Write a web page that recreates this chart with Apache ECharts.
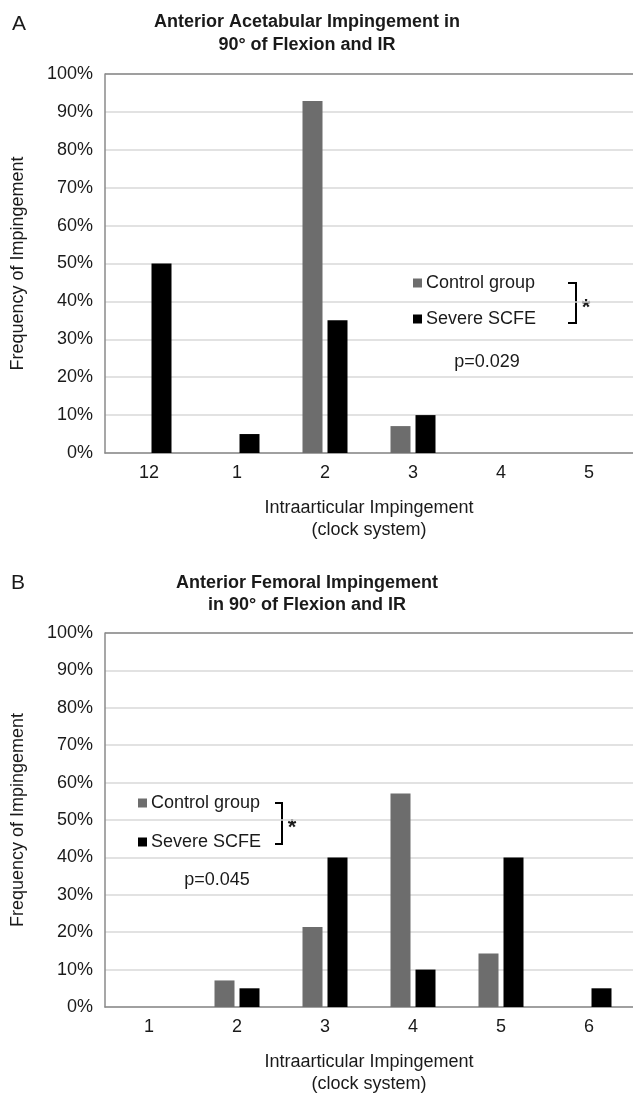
<!DOCTYPE html>
<html>
<head>
<meta charset="utf-8">
<script src="https://cdn.jsdelivr.net/npm/echarts@6/dist/echarts.min.js"></script>
<style>
html, body { margin: 0; padding: 0; background: #fff; }
#chart { width: 633px; height: 1096px; }
</style>
</head>
<body>
<div id="chart"></div>
<script>
// panel A: acetabular impingement
var clockA = ['12', '1', '2', '3', '4', '5'];
var controlA = [0, 0, 92.9, 7.1, 0, 0];
var scfeA = [50, 5, 35, 10, 0, 0];

// panel B: femoral impingement
var clockB = ['1', '2', '3', '4', '5', '6'];
var controlB = [0, 7.1, 21.4, 57.1, 14.3, 0];
var scfeB = [0, 5, 40, 10, 40, 5];

var seriesNames = ['Control group', 'Severe SCFE'];
var seriesColors = ['#6d6d6d', '#000000'];

var FONT = '"Liberation Sans", Arial, sans-serif';
var TXT = '#1a1a1a';

// light grid lines, darker line on top (100%)
var gridColors = [];
for (var i = 0; i < 10; i++) gridColors.push('#d9d9d9');
gridColors.push('#7f7f7f');

function xAxisFor(idx, cats) {
    return {
        type: 'category',
        gridIndex: idx,
        data: cats,
        axisLine: { lineStyle: { color: '#8a8a8a', width: 1.5 } },
        axisTick: { show: false },
        axisLabel: { color: TXT, fontFamily: FONT, fontSize: 18, margin: 11 },
        name: 'Intraarticular Impingement\n(clock system)',
        nameLocation: 'middle',
        nameGap: 44,
        nameTextStyle: { color: TXT, fontFamily: FONT, fontSize: 18, lineHeight: 22 }
    };
}

function yAxisFor(idx) {
    return {
        type: 'value',
        gridIndex: idx,
        min: 0,
        max: 100,
        interval: 10,
        axisLine: { show: true, lineStyle: { color: '#8a8a8a', width: 1.5 } },
        axisTick: { show: false },
        axisLabel: { color: TXT, fontFamily: FONT, fontSize: 18, margin: 12, formatter: '{value}%' },
        splitLine: { lineStyle: { color: gridColors, width: 1.5 } },
        name: 'Frequency of Impingement',
        nameLocation: 'middle',
        nameGap: 78,
        nameTextStyle: { color: TXT, fontFamily: FONT, fontSize: 18 }
    };
}

function barSeries(name, color, data, idx) {
    return {
        type: 'bar',
        name: name,
        xAxisIndex: idx,
        yAxisIndex: idx,
        data: data,
        barWidth: 20,
        barGap: '25%',
        itemStyle: { color: color },
        animation: false
    };
}

function legendAt(left, top, gap) {
    return {
        orient: 'vertical',
        left: left,
        top: top,
        padding: 0,
        itemGap: gap,
        itemWidth: 9,
        itemHeight: 9,
        icon: 'rect',
        selectedMode: false,
        data: seriesNames,
        textStyle: { color: TXT, fontFamily: FONT, fontSize: 18, lineHeight: 20, padding: [0, 0, 0, -1] }
    };
}

function label(x, y, text, size, bold) {
    return {
        type: 'text',
        x: x,
        y: y,
        style: {
            text: text,
            fill: TXT,
            font: (bold ? 'bold ' : '') + size + 'px ' + FONT,
            textAlign: 'center',
            textVerticalAlign: 'middle'
        }
    };
}

function bracket(x, y1, y2, w) {
    return {
        type: 'polyline',
        shape: { points: [[x - w, y1], [x, y1], [x, y2], [x - w, y2]] },
        style: { stroke: '#000', lineWidth: 2, fill: null }
    };
}

var chart = echarts.init(document.getElementById('chart'));
chart.setOption({
    backgroundColor: '#fff',
    animation: false,
    grid: [
        { left: 105, right: 0, top: 74, height: 379 },
        { left: 105, right: 0, top: 633, height: 380 }
    ],
    xAxis: [xAxisFor(0, clockA), xAxisFor(1, clockB)],
    yAxis: [yAxisFor(0), yAxisFor(1)],
    legend: [legendAt(413, 273, 16), legendAt(138, 793, 19)],
    series: [
        barSeries(seriesNames[0], seriesColors[0], controlA, 0),
        barSeries(seriesNames[1], seriesColors[1], scfeA, 0),
        barSeries(seriesNames[0], seriesColors[0], controlB, 1),
        barSeries(seriesNames[1], seriesColors[1], scfeB, 1)
    ],
    graphic: [
        label(19, 24, 'A', 21, false),
        label(307, 22, 'Anterior Acetabular Impingement in', 18, true),
        label(307, 45, '90° of Flexion and IR', 18, true),
        bracket(576, 283, 323, 8),
        label(586, 308, '*', 22, true),
        label(487, 362, 'p=0.029', 18, false),

        label(18, 583, 'B', 21, false),
        label(307, 583, 'Anterior Femoral Impingement', 18, true),
        label(307, 605, 'in 90° of Flexion and IR', 18, true),
        bracket(282, 803, 844, 7),
        label(292, 828, '*', 22, true),
        label(217, 880, 'p=0.045', 18, false)
    ]
});
window.addEventListener('resize', function () {
    chart.resize();
});
</script>
</body>
</html>
